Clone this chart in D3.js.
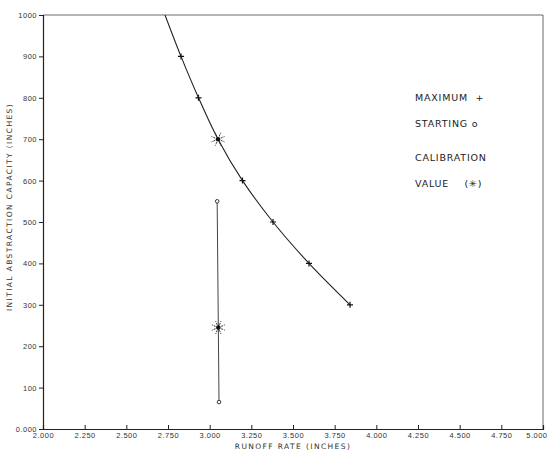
<!DOCTYPE html>
<html>
<head>
<meta charset="utf-8">
<script src="https://cdn.jsdelivr.net/npm/d3@7"></script>
<style>
  body { margin: 0; background: #fff; }
  svg { display: block; font-family: "DejaVu Sans", sans-serif; }
  .tick text { fill: #333; font-size: 7.5px; letter-spacing: 0.5px; }
  .domain, .tick line { stroke: #222; }
</style>
</head>
<body>
<svg id="chart" width="552" height="451"></svg>
<script>
// values
var maxX = [2732, 2828, 2933, 3050, 3197, 3380, 3596, 3842];
var maxY = [1000, 900, 800, 700, 600, 500, 400, 300];
var maxMark = [false, true, true, false, true, true, true, true];
var startX = [3045, 3052, 3056];
var startY = [550, 245, 65];
var calib = [[3050, 700], [3052, 245]];
var xTicks = [2000, 2250, 2500, 2750, 3000, 3250, 3500, 3750, 4000, 4250, 4500, 4750, 5000];
var yTicks = [0, 100, 200, 300, 400, 500, 600, 700, 800, 900, 1000];
var legend = ["MAXIMUM  +", "STARTING o", "CALIBRATION", "VALUE    (\u2733)"];

var svg = d3.select("#chart"),
    margin = {top: 15, right: 9, bottom: 22, left: 43},
    width = +svg.attr("width"),
    height = +svg.attr("height");

var x = d3.scaleLinear().domain([2000, 5000]).range([margin.left, width - margin.right]);
var y = d3.scaleLinear().domain([0, 1000]).range([height - margin.bottom, margin.top]);

svg.append("defs").append("clipPath").attr("id", "clip")
  .append("rect")
    .attr("x", x(2000)).attr("y", y(1000))
    .attr("width", x(5000) - x(2000)).attr("height", y(0) - y(1000));

// frame top and right
svg.append("path")
  .attr("d", "M" + x(2000) + "," + y(1000) + "H" + x(5000) + "V" + y(0))
  .attr("fill", "none").attr("stroke", "#444").attr("stroke-width", 0.8);

svg.append("g")
  .attr("transform", "translate(0," + y(0) + ")")
  .call(d3.axisBottom(x).tickValues(xTicks).tickSize(-4).tickPadding(4)
    .tickFormat(d => d3.format(".3f")(d / 1000)))
  .call(g => g.select(".domain").attr("stroke-width", 1.2))
  .call(g => g.selectAll(".tick:last-of-type text").attr("text-anchor", "end").attr("dx", 4));

svg.append("g")
  .attr("transform", "translate(" + x(2000) + ",0)")
  .call(d3.axisLeft(y).tickValues(yTicks).tickSize(4).tickPadding(2)
    .tickFormat(d => d === 0 ? "0.000" : d))
  .call(g => g.select(".domain").attr("stroke-width", 1.2));

svg.append("text")
  .attr("transform", "translate(12," + 207 + ") rotate(-90)")
  .attr("text-anchor", "middle")
  .attr("font-size", 7.5).attr("letter-spacing", 1.4).attr("fill", "#333")
  .text("INITIAL ABSTRACTION CAPACITY (INCHES)");

svg.append("text")
  .attr("x", x(3500)).attr("y", 449)
  .attr("text-anchor", "middle")
  .attr("font-size", 7.5).attr("letter-spacing", 1.4).attr("fill", "#333")
  .text("RUNOFF RATE (INCHES)");

var plot = svg.append("g").attr("clip-path", "url(#clip)");

var maxData = maxX.map((d, i) => ({x: d, y: maxY[i], mark: maxMark[i]}));
var line = d3.line().x(d => x(d.x)).y(d => y(d.y)).curve(d3.curveCatmullRom);

plot.append("path")
  .datum(maxData)
  .attr("d", line)
  .attr("fill", "none").attr("stroke", "#222").attr("stroke-width", 1.1);

var startData = startX.map((d, i) => ({x: d, y: startY[i]}));
plot.append("path")
  .datum(startData)
  .attr("d", d3.line().x(d => x(d.x)).y(d => y(d.y)))
  .attr("fill", "none").attr("stroke", "#444").attr("stroke-width", 1);

// plus markers
plot.selectAll(".plus")
  .data(maxData.filter(d => d.mark))
  .enter().append("path")
    .attr("class", "plus")
    .attr("d", d => "M" + (x(d.x) - 3) + "," + y(d.y) + "h6M" + x(d.x) + "," + (y(d.y) - 3) + "v6")
    .attr("stroke", "#111").attr("stroke-width", 1.2);

// circle markers
plot.selectAll(".start")
  .data([startData[0], startData[2]])
  .enter().append("circle")
    .attr("class", "start")
    .attr("cx", d => x(d.x)).attr("cy", d => y(d.y)).attr("r", 1.8)
    .attr("fill", "#fff").attr("stroke", "#222").attr("stroke-width", 0.9);

// calibration stars
var star = plot.selectAll(".star")
  .data(calib)
  .enter().append("g")
    .attr("class", "star")
    .attr("transform", d => "translate(" + x(d[0]) + "," + y(d[1]) + ")");
star.selectAll("line")
  .data(d3.range(8))
  .enter().append("line")
    .attr("x1", 0).attr("y1", 0)
    .attr("x2", i => 7 * Math.cos(i * Math.PI / 4 + Math.PI / 8))
    .attr("y2", i => 7 * Math.sin(i * Math.PI / 4 + Math.PI / 8))
    .attr("stroke", "#222").attr("stroke-width", 0.9)
    .attr("stroke-dasharray", "2,1");
star.append("circle").attr("r", 2.2).attr("fill", "#111");

// legend
svg.selectAll(".legend")
  .data(legend)
  .enter().append("text")
    .attr("class", "legend")
    .attr("x", 415)
    .attr("y", (d, i) => [101, 127, 161, 187][i])
    .attr("font-size", 9.5).attr("letter-spacing", 0.8).attr("fill", "#222")
    .attr("xml:space", "preserve")
    .style("white-space", "pre")
    .text(d => d);
</script>
</body>
</html>
